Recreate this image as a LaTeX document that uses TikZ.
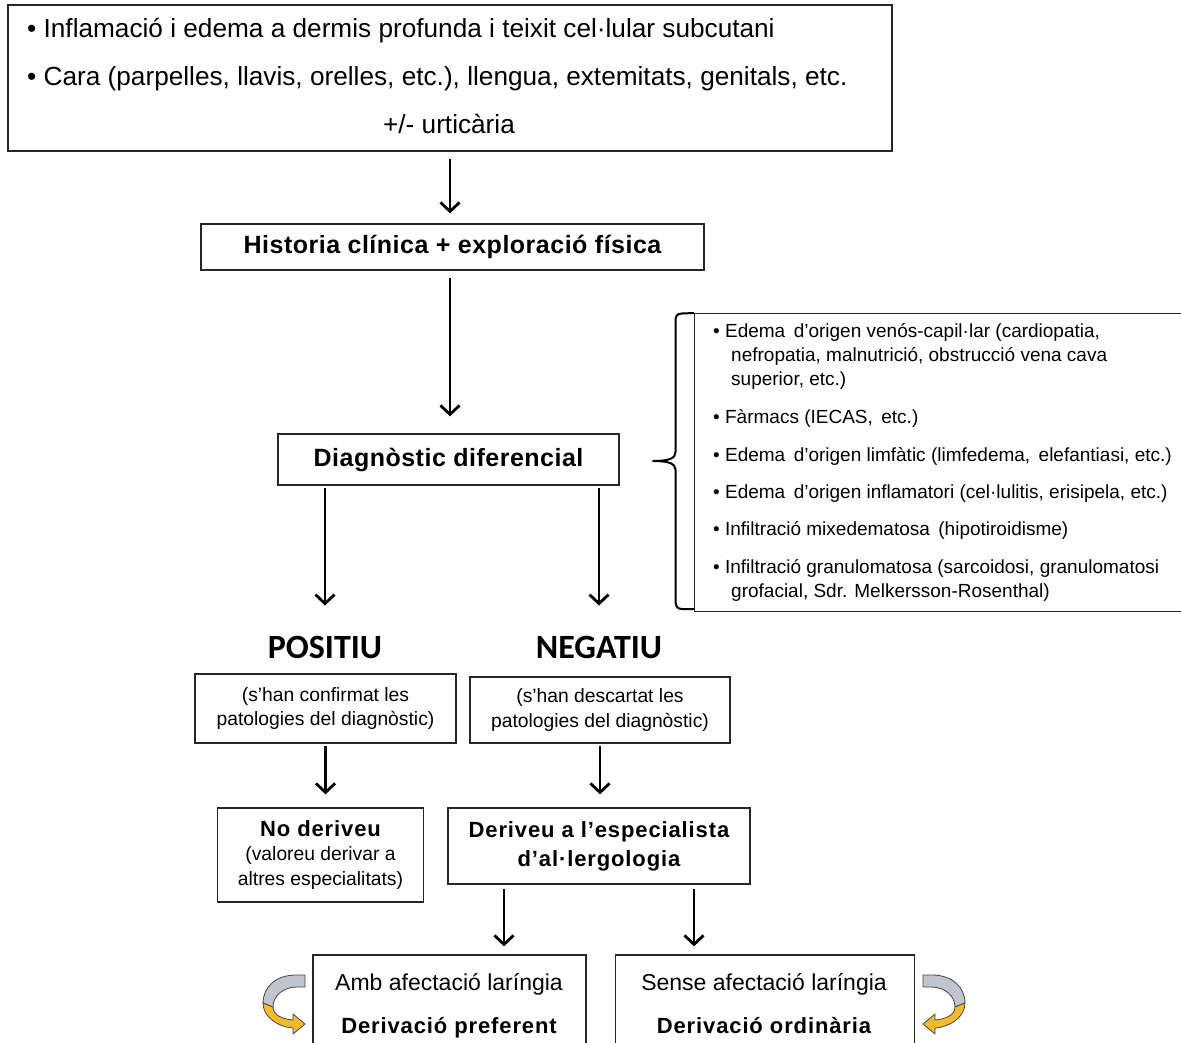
\documentclass[tikz,border=0pt]{standalone}
\usepackage{fontspec}
\setmainfont{Liberation Sans}
\newfontfamily\carlitofam{Carlito}
\usetikzlibrary{arrows.meta}
\newcommand\fTop{\fontsize{26.2}{30}\selectfont}
\newcommand\fBold{\fontsize{25}{29}\selectfont\bfseries\addfontfeatures{LetterSpace=2}}
\newcommand\fDer{\fontsize{22}{29}\selectfont\bfseries\addfontfeatures{LetterSpace=4}}
\newcommand\fList{\fontsize{19}{22}\selectfont}
\newcommand\fSmall{\fontsize{19.3}{24.5}\selectfont}
\newcommand\fBot{\fontsize{23}{26}\selectfont}
\newcommand\fPN{\fontsize{34}{38}\selectfont\carlitofam\bfseries}
\definecolor{ribgray}{RGB}{192,197,206}
\definecolor{ribyel}{RGB}{246,186,44}
\definecolor{ribline}{RGB}{70,70,70}
\begin{document}
\begin{tikzpicture}[x=1pt,y=-1pt,
  box/.style={draw=black!85, line width=1.3pt, inner sep=0pt},
  lbl/.style={inner sep=0pt},
  arr/.style={line width=2.8pt, -{Straight Barb[length=9pt,width=19pt]}},
  ribbon/.style={draw=ribline, line width=0.8pt, line join=round}]
\useasboundingbox (0,0) rectangle (1181,1043);

% top box
\node[box, minimum width=884pt, minimum height=146pt] (top) at (450,78) {};
\node[lbl, anchor=base west, font=\fTop] (t1) at (27,38) {• Inflamació i edema a dermis profunda i teixit cel·lular subcutani};
\node[lbl, anchor=base west, font=\fTop] (t2) at (27,86) {• Cara (parpelles, llavis, orelles, etc.), llengua, extemitats, genitals, etc.};
\node[lbl, anchor=base, font=\fTop] (t3) at (449,134) {+/- urticària};

% historia
\node[box, minimum width=503pt, minimum height=46pt, font=\fBold] (hist) at (452.5,247) {Historia clínica + exploració física};
% diagnostic
\node[box, minimum width=341pt, minimum height=51pt, font=\fBold] (diag) at (448.5,459.5) {Diagnòstic diferencial};

\draw[arr, shorten <=7pt, shorten >=10pt] (top.south) -- (top.south |- hist.north);
\draw[arr, shorten <=7pt, shorten >=17pt] (hist.south -| top.south) -- (diag.north -| top.south);

% list
\node[box, anchor=north west, minimum width=500pt, minimum height=298pt] (list) at (694,313) {};
\draw[line width=2pt, line join=round] (list.north west) -- (682,313.5) .. controls (677,313.5) and (675.5,316) .. (675.5,321) -- (675.5,452) .. controls (675.5,458) and (670,461) .. (653,461) .. controls (670,461) and (675.5,464) .. (675.5,470) -- (675.5,600) .. controls (675.5,606) and (677,609) .. (682,609) -- (694,609);
\begin{scope}[every node/.style={lbl, anchor=base west, font=\fList}]
\node (l1) at (713,337) {• Edema\, d’origen venós-capil·lar (cardiopatia,};
\node (l2) at (731,361) {nefropatia, malnutrició, obstrucció vena cava};
\node (l3) at (731,385) {superior, etc.)};
\node (l4) at (713,423) {• Fàrmacs (IECAS,\, etc.)};
\node (l5) at (713,461) {• Edema\, d’origen limfàtic (limfedema,\, elefantiasi, etc.)};
\node (l6) at (713,498) {• Edema\, d’origen inflamatori (cel·lulitis, erisipela, etc.)};
\node (l7) at (713,535) {• Infiltració mixedematosa\, (hipotiroidisme)};
\node (l8) at (713,573) {• Infiltració granulomatosa (sarcoidosi, granulomatosi};
\node (l9) at (731,597) {grofacial, Sdr. Melkersson-Rosenthal)};
\end{scope}

% positiu / negatiu
\node[lbl, font=\fPN] (pos) at (325,647) {POSITIU};
\node[lbl, font=\fPN] (neg) at (599,647) {NEGATIU};
\draw[arr, shorten <=2pt, shorten >=30pt] (diag.south -| pos.north) -- (pos.north);
\draw[arr, shorten <=2pt, shorten >=30pt] (diag.south -| neg.north) -- (neg.north);

\node[box, minimum width=261pt, minimum height=69pt, align=center, font=\fSmall] (conf) at (325.5,708.5) {(s’han confirmat les\\patologies del diagnòstic)};
\node[box, minimum width=260pt, minimum height=66pt, align=center, font=\fSmall] (desc) at (600,710) {(s’han descartat les\\patologies del diagnòstic)};

\node[box, minimum width=206pt, minimum height=94pt, align=center, font=\fSmall] (nod) at (320.5,855) {{\fDer No deriveu}\\(valoreu derivar a\\altres especialitats)};
\node[box, minimum width=302pt, minimum height=76pt, align=center, font=\fDer] (der) at (599,846) {Deriveu a l’especialista\\d’al·lergologia};

\draw[arr, shorten <=2pt, shorten >=13pt] (conf.south) -- (conf.south |- nod.north);
\draw[arr, shorten <=2pt, shorten >=13pt] (desc.south) -- (desc.south |- der.north);

% bottom boxes
\node[box, minimum width=273pt, minimum height=100pt] (amb) at (449.5,1005) {};
\node[box, minimum width=299pt, minimum height=100pt] (sen) at (765,1005) {};
\node[lbl, anchor=base, font=\fBot] (a1) at (449,990) {Amb afectació laríngia};
\node[lbl, anchor=base, font=\fDer] (a2) at (449,1033) {Derivació preferent};
\node[lbl, anchor=base, font=\fBot] (s1) at (764,990) {Sense afectació laríngia};
\node[lbl, anchor=base, font=\fDer] (s2) at (764,1033) {Derivació ordinària};

\coordinate (xa) at (504,0);
\coordinate (xs) at (694,0);
\draw[arr, shorten <=4pt, shorten >=8pt] (der.south -| xa) -- (amb.north -| xa);
\draw[arr, shorten <=4pt, shorten >=8pt] (der.south -| xs) -- (sen.north -| xs);

% curved ribbons
\foreach \sx/\sh in {1/0, -1/1228}{
\begin{scope}[xshift=\sh pt, xscale=\sx]
\filldraw[ribbon, fill=ribgray] (305,975) -- (296,975) .. controls (275,975) and (263,988) .. (263,1003) -- (273,1007) .. controls (273,996) and (283,987) .. (297,987) -- (305,987) -- cycle;
\filldraw[ribbon, fill=ribyel] (263,1003) .. controls (263,1017) and (278,1027) .. (293,1028) -- (293,1034) -- (305,1024) -- (293,1014) -- (293,1020) .. controls (282,1019) and (273,1015) .. (273,1007) -- cycle;
\end{scope}}
\end{tikzpicture}
\end{document}
